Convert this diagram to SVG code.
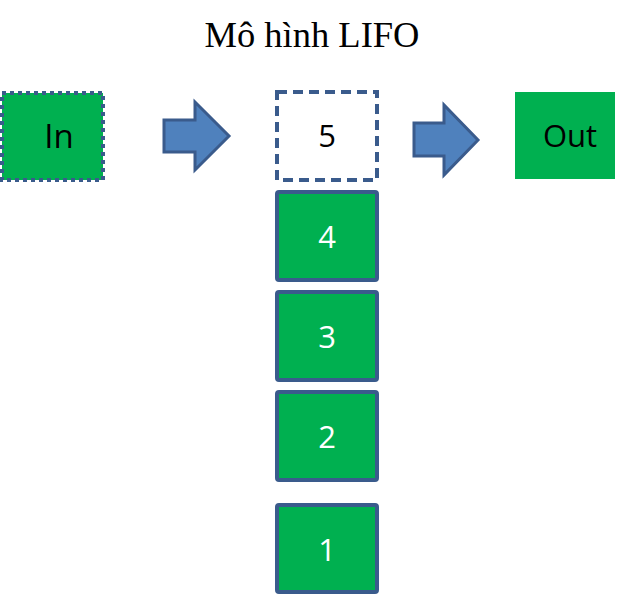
<svg xmlns="http://www.w3.org/2000/svg" width="623" height="595" viewBox="0 0 623 595">
<style>
.box{fill:#00B050;stroke:#3A5B8C;stroke-width:4}
.arrow{fill:#4F81BD;stroke:#3A5B8C;stroke-width:3;stroke-linejoin:miter}
.lbl{font-family:"Open Sans","Liberation Sans",sans-serif;font-size:31px;text-anchor:middle}
.w{fill:#FFFFFF}
.k{fill:#000000}
</style>
<rect width="623" height="595" fill="#FFFFFF"/>
<text x="312" y="47" font-family="Liberation Serif, serif" font-size="36.5" text-anchor="middle" fill="#000">Mô hình LIFO</text>
<g id="node-in">
<rect x="2" y="93" width="101" height="87" fill="#00B050" stroke="#3A5B8C" stroke-width="4" stroke-dasharray="4 4"/>
<text class="lbl k" x="59" y="148" style="font-size:33px">In</text>
</g>
<g id="node-5">
<rect x="277" y="92" width="100" height="88" fill="#FFFFFF" stroke="#3A5B8C" stroke-width="4" stroke-dasharray="10 6"/>
<text class="lbl k" x="327" y="147">5</text>
</g>
<g id="node-out">
<rect x="515" y="92" width="100" height="87" fill="#00B050"/>
<text class="lbl k" x="570" y="147">Out</text>
</g>
<g id="node-4">
<rect class="box" x="277" y="192" width="100" height="88" rx="2"/>
<text class="lbl w" x="327" y="248">4</text>
</g>
<g id="node-3">
<rect class="box" x="277" y="292" width="100" height="88" rx="2"/>
<text class="lbl w" x="327" y="348">3</text>
</g>
<g id="node-2">
<rect class="box" x="277" y="392" width="100" height="88" rx="2"/>
<text class="lbl w" x="327" y="448">2</text>
</g>
<g id="node-1">
<rect class="box" x="277" y="505" width="100" height="87" rx="2"/>
<text class="lbl w" x="327" y="561">1</text>
</g>
<g id="connectors">
<path class="arrow" d="M164,120 L195,120 L195,102 L229,136 L195,170 L195,152 L164,152 Z"/>
<path class="arrow" d="M414,123 L444,123 L444,105 L478,140 L444,175 L444,156 L414,156 Z"/>
</g>
</svg>
